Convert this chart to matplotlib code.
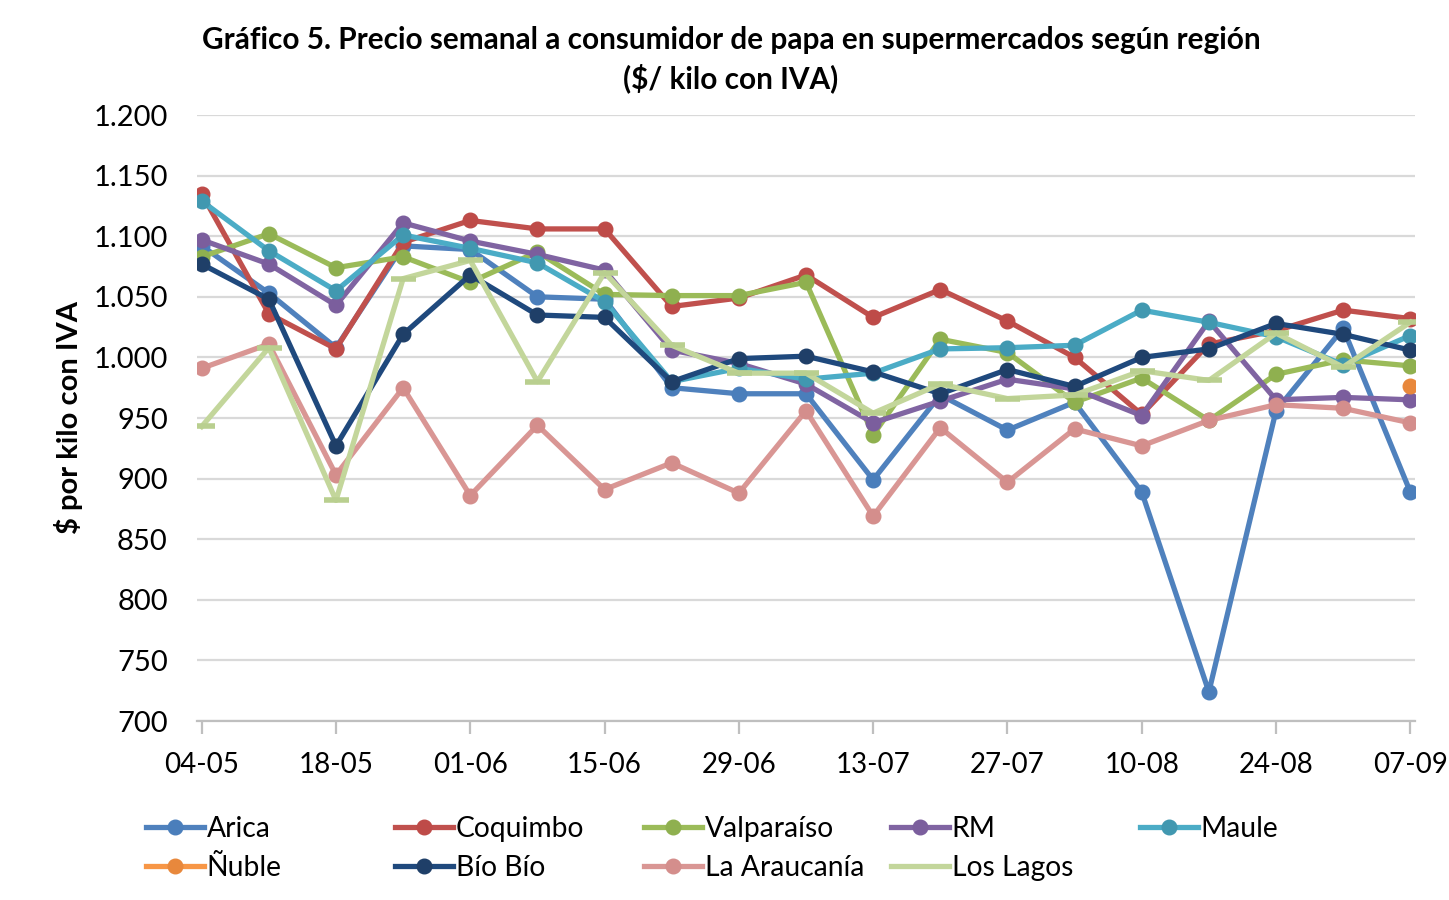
import numpy as np
import matplotlib
matplotlib.use("Agg")
import matplotlib.pyplot as plt
from matplotlib.lines import Line2D
from matplotlib.ticker import FuncFormatter

plt.rcParams['font.family'] = ['Lato', 'DejaVu Sans']

weeks = ['04-05', '11-05', '18-05', '25-05', '01-06', '08-06', '15-06', '22-06', '29-06', '06-07',
         '13-07', '20-07', '27-07', '03-08', '10-08', '17-08', '24-08', '31-08', '07-09']

arica = [1092, 1053, 1008, 1092, 1089, 1050, 1048, 975, 970, 970,
         899, 969, 940, 963, 889, 724, 956, 1024, 889]
coquimbo = [1135, 1036, 1007, 1095, 1113, 1106, 1106, 1042, 1049, 1068,
            1033, 1056, 1030, 1000, 953, 1011, 1022, 1039, 1032]
valparaiso = [1083, 1102, 1074, 1083, 1062, 1087, 1052, 1051, 1051, 1062,
              936, 1015, 1004, 963, 983, 948, 986, 998, 993]
rm = [1097, 1077, 1043, 1111, 1096, 1085, 1072, 1006, 995, 978,
      946, 964, 982, 974, 952, 1030, 965, 967, 965]
maule = [1129, 1088, 1055, 1101, 1090, 1078, 1046, 980, 991, 982,
         987, 1007, 1008, 1010, 1039, 1029, 1017, 994, 1018]
nuble = [np.nan] * 18 + [976]
biobio = [1077, 1048, 927, 1019, 1068, 1035, 1033, 980, 999, 1001,
          988, 970, 990, 976, 1000, 1007, 1028, 1019, 1006]
araucania = [991, 1011, 903, 975, 886, 944, 891, 913, 888, 956,
             869, 942, 897, 941, 927, 948, 961, 958, 946]
los_lagos = [943, 1008, 882, 1065, 1080, 980, 1070, 1010, 987, 987,
             954, 978, 966, 969, 989, 981, 1020, 992, 1029]

series = [
    ('Arica', arica, '#4F81BD', '#4A7EBB', 'o'),
    ('Coquimbo', coquimbo, '#C0504D', '#BE4B48', 'o'),
    ('Valparaíso', valparaiso, '#9BBB59', '#8FB04F', 'o'),
    ('RM', rm, '#8064A2', '#7B5E9D', 'o'),
    ('Maule', maule, '#4BACC6', '#4198B0', 'o'),
    ('Ñuble', nuble, '#F79646', '#E8883C', 'o'),
    ('Bío Bío', biobio, '#1F497D', '#1F3F68', 'o'),
    ('La Araucanía', araucania, '#D99694', '#D48E8C', 'o'),
    ('Los Lagos', los_lagos, '#C3D69B', '#B9CF8F', '_'),
]

fig = plt.figure(figsize=(14.49, 9.0), dpi=100)
ax = fig.add_axes([197 / 1449, 1 - 721 / 900, (1415 - 197) / 1449, (721 - 115) / 900])

x = np.arange(len(weeks))
handles = {}
for name, vals, col, mcol, mk in series:
    if mk == '_':
        ax.plot(x, vals, color=col, lw=3.8, marker='_', markersize=18,
                markeredgewidth=4, markeredgecolor=mcol, zorder=3)
        # legend shows this series without a marker
        handles[name] = Line2D([], [], color=col, lw=3.8)
    else:
        h, = ax.plot(x, vals, color=col, lw=3.8, marker='o', markersize=10.5,
                     markerfacecolor=mcol, markeredgecolor=mcol, zorder=3)
        handles[name] = h

ax.set_ylim(700, 1200)
ax.set_yticks(np.arange(700, 1201, 50))
ax.yaxis.set_major_formatter(FuncFormatter(lambda v, p: f"{int(v):,}".replace(',', '.')))
ax.set_xlim(-0.07, 18.07)
ax.set_xticks(x[::2])
ax.set_xticklabels(weeks[::2])

ax.grid(axis='y', color='#D9D9D9', lw=1.6)
ax.set_axisbelow(True)
for s in ['left', 'right', 'top']:
    ax.spines[s].set_visible(False)
ax.spines['bottom'].set_color('#BFBFBF')
ax.spines['bottom'].set_linewidth(1.6)
ax.tick_params(axis='y', length=0, labelsize=21, pad=21)
ax.tick_params(axis='x', length=9, width=1.6, color='#BFBFBF', labelsize=20, pad=13)

ax.set_ylabel('$ por kilo con IVA', fontsize=21, fontweight='bold')
ax.yaxis.set_label_coords(-0.094, 0.5)

fig.text(731 / 1449, 1 - 40 / 900, 'Gráfico 5. Precio semanal a consumidor de papa en supermercados según región',
         ha='center', va='center', fontsize=21.4, fontweight='bold')
fig.text(731 / 1449, 1 - 78 / 900, '($/ kilo con IVA)',
         ha='center', va='center', fontsize=21.4, fontweight='bold')

# legend laid out column by column, like the original
columns = [['Arica', 'Ñuble'], ['Coquimbo', 'Bío Bío'], ['Valparaíso', 'La Araucanía'],
           ['RM', 'Los Lagos'], ['Maule']]
col_x = [146, 395, 644, 891, 1140]
for names, cx in zip(columns, col_x):
    fig.legend([handles[n] for n in names], names, loc='upper left',
               bbox_to_anchor=(cx / 1449, 1 - 816 / 900), frameon=False, fontsize=20.3,
               handlelength=2.05, handletextpad=0.1, labelspacing=0.45,
               borderpad=0, borderaxespad=0)

fig.savefig('out.png', dpi=100)
